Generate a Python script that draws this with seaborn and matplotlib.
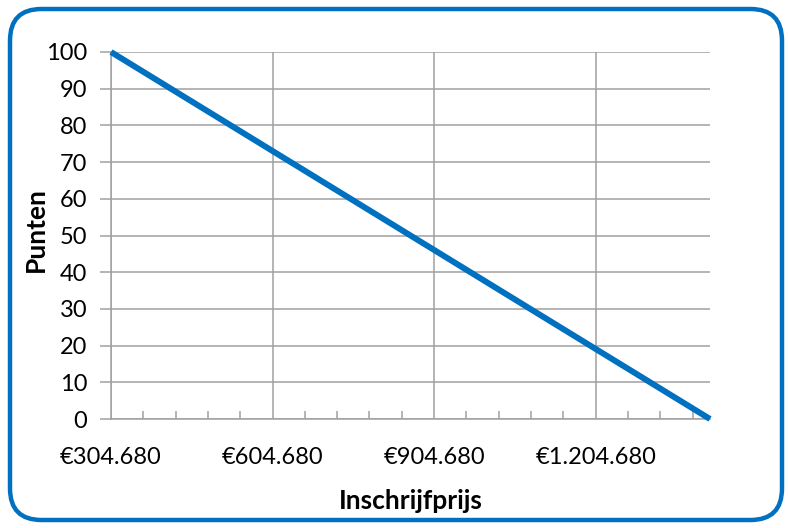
import seaborn as sns
import pandas as pd
import matplotlib.pyplot as plt
from matplotlib.patches import FancyBboxPatch
from matplotlib.ticker import FuncFormatter, FixedLocator

prijs = [304680, 1417000]
punten = [100, 0]
xticks = [304680, 604680, 904680, 1204680]
data = pd.DataFrame({"Inschrijfprijs": prijs, "Punten": punten})

sns.set_theme(style="white")
plt.rcParams['font.family'] = ['Lato', 'DejaVu Sans']

fig = plt.figure(figsize=(7.88, 5.28), dpi=100)
ax = fig.add_axes([111/788, 1-419/528, (710-111)/788, (419-52)/528])

blauw = "#0070C0"
g = sns.lineplot(data=data, x="Inschrijfprijs", y="Punten", color=blauw, linewidth=4.3,
                 ax=ax, solid_capstyle="butt", clip_on=False, zorder=5)

ax.set_xlim(304680, 1417000)
ax.set_ylim(0, 100)
ax.set_yticks(range(0, 101, 10))
ax.xaxis.set_major_locator(FixedLocator(xticks))
ax.xaxis.set_minor_locator(FixedLocator([304680 + 60000 * i for i in range(1, 19) if i % 5]))
ax.xaxis.set_major_formatter(FuncFormatter(lambda v, p: "€" + f"{int(round(v)):,}".replace(",", ".")))

ax.grid(True, which="major", color="#a0a0a0", linewidth=1.1)
for s in ["top", "right"]:
    ax.spines[s].set_visible(False)
for s in ["left", "bottom"]:
    ax.spines[s].set_color("#a0a0a0")
    ax.spines[s].set_linewidth(1.1)

ax.tick_params(axis="y", which="major", direction="out", length=8, width=1.1, color="#a0a0a0",
               labelsize=17, pad=9, left=True, labelcolor="black")
ax.tick_params(axis="x", which="major", direction="in", length=0, labelsize=17, pad=20, bottom=True,
               labelcolor="black")
ax.tick_params(axis="x", which="minor", direction="in", length=6, width=1.1, color="#a0a0a0", bottom=True)

ax.set_xlabel("Inschrijfprijs", fontsize=19, fontweight="bold", color="black")
ax.set_ylabel("Punten", fontsize=19, fontweight="bold", color="black")
ax.xaxis.set_label_coords(0.5, -0.19)
ax.yaxis.set_label_coords(-0.106, 0.515)

frame = FancyBboxPatch((10/788, 8/528), 772/788, 511/528, boxstyle="round,pad=0,rounding_size=0.04",
                       transform=fig.transFigure, fill=False, edgecolor=blauw, linewidth=3.2,
                       mutation_aspect=788/528)
fig.patches.append(frame)

plt.savefig("out.png", dpi=100)
